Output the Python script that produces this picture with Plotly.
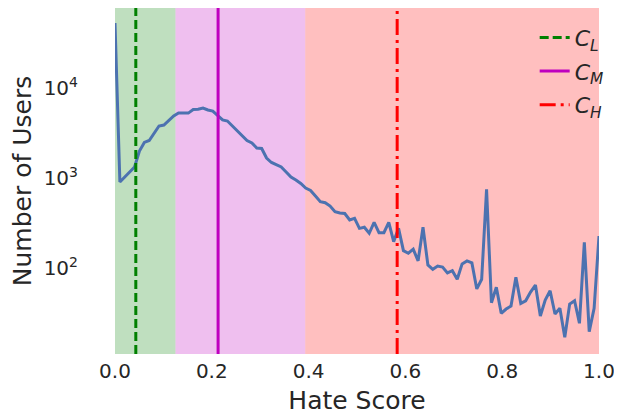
import plotly.graph_objects as go

# ---- data ----
hate_score = [i / 99 for i in range(100)]
num_users = [
    53200, 910, 1034, 1175, 1336, 2011, 2500, 2630, 3187, 3812,
    3910, 4446, 4920, 5316, 5316, 5300, 5810, 5840, 6040, 5740,
    5590, 4920, 4446, 4330, 3812, 3356, 2913, 2630, 2466, 2172,
    2145, 1681, 1499, 1424, 1336, 1175, 1034, 957, 875, 780,
    732, 636, 550, 536, 492, 425, 411, 406, 344, 359,
    278, 286, 245, 324, 249, 249, 324, 198, 278, 157,
    147, 163, 121, 286, 109, 97.5, 106, 103, 89, 94,
    75.5, 112, 121, 115, 59, 75.5, 755, 41.5, 61.5, 31.6,
    35.3, 38.1, 79.4, 40.8, 43.6, 54.5, 65.2, 29.5, 44.5, 56.4,
    31.1, 36, 17.1, 40.1, 43.6, 24.5, 194, 19.8, 36, 228,
]

region_bounds = [0.0, 0.125, 0.393, 1.0]
region_colors = ["rgba(0,128,0,0.25)", "rgba(191,0,191,0.25)", "rgba(255,0,0,0.25)"]

threshold_names = ["<i>C</i><sub><i>L</i></sub>", "<i>C</i><sub><i>M</i></sub>", "<i>C</i><sub><i>H</i></sub>"]
threshold_values = [0.043, 0.213, 0.583]
threshold_colors = ["#008000", "#bf00bf", "#ff0000"]
threshold_dashes = ["9px,4px", "solid", "16px,5px,3px,5px"]

y_log_range = [1.048, 4.892]
x_ticks = [0.0, 0.2, 0.4, 0.6, 0.8, 1.0]
x_tick_labels = ["0.0", "0.2", "0.4", "0.6", "0.8", "1.0"]
y_ticks = [100, 1000, 10000]
y_tick_labels = ["10<sup>2</sup>", "10<sup>3</sup>", "10<sup>4</sup>"]

TEXT = "#262626"
FONT = "DejaVu Sans"

fig = go.Figure()

for i, col in enumerate(region_colors):
    fig.add_vrect(x0=region_bounds[i], x1=region_bounds[i + 1], fillcolor=col,
                  line_width=0, layer="below")

fig.add_trace(go.Scatter(x=hate_score, y=num_users, mode="lines",
                         line=dict(color="#4c72b0", width=3), showlegend=False))

y_lo, y_hi = 10 ** y_log_range[0], 10 ** y_log_range[1]
for k, (name, val, col, dsh) in enumerate(zip(threshold_names, threshold_values,
                                               threshold_colors, threshold_dashes)):
    fig.add_trace(go.Scatter(x=[val, val], y=[y_lo, y_hi], mode="lines", name=name,
                             legendgroup=f"g{k}",
                             line=dict(color=col, width=3, dash=dsh)))

# page body adds an 8px offset, so the figure is sized to fit the 622x415 window
fig.update_layout(
    width=614, height=407,
    margin=dict(l=107, r=23, t=0, b=61),
    paper_bgcolor="white", plot_bgcolor="white",
    font=dict(family=FONT, color=TEXT, size=20),
    legend=dict(x=1.02, y=0.975, xanchor="right", yanchor="top",
                bgcolor="rgba(0,0,0,0)", font=dict(size=22, color=TEXT),
                tracegroupgap=2),
)
fig.update_xaxes(range=[0, 1], tickvals=x_ticks, ticktext=x_tick_labels,
                 showgrid=False, zeroline=False, showline=False,
                 ticks="", ticklabelstandoff=3, tickfont=dict(size=20, color=TEXT),
                 title=dict(text="Hate Score", font=dict(size=25, color=TEXT), standoff=11))
fig.update_yaxes(type="log", range=y_log_range, tickvals=y_ticks, ticktext=y_tick_labels,
                 showgrid=False, zeroline=False, showline=False,
                 ticks="", ticklabelstandoff=36, tickfont=dict(size=20, color=TEXT),
                 title=dict(text="Number of Users", font=dict(size=25, color=TEXT), standoff=7))

fig.write_html("out.html")
